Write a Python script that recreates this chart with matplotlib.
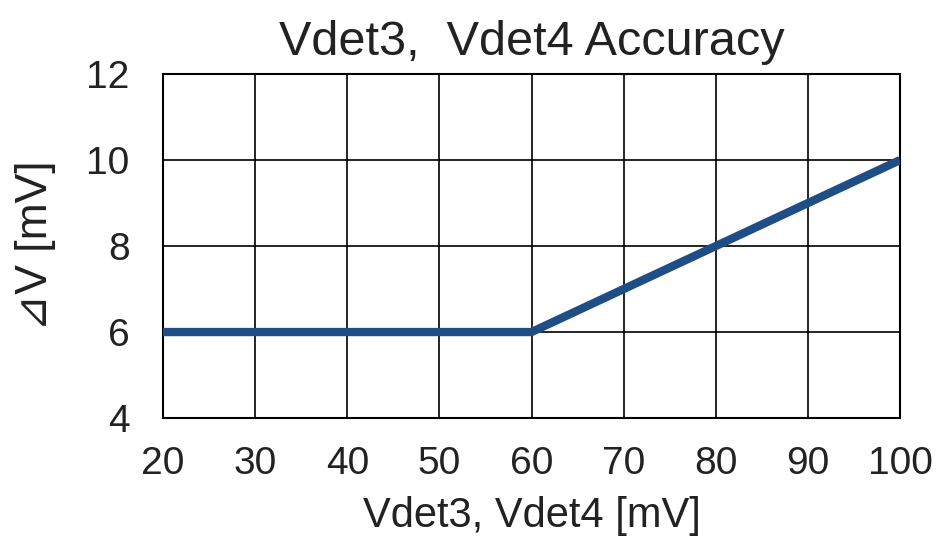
import matplotlib.pyplot as plt

plt.rcParams['font.family'] = ['Liberation Sans', 'DejaVu Sans']

# 折线数据
vdet = [20, 60, 100]
delta_v = [6, 6, 10]

x_ticks = [20, 30, 40, 50, 60, 70, 80, 90, 100]
y_ticks = [4, 6, 8, 10, 12]

fig = plt.figure(figsize=(9.37, 5.45), dpi=100)
ax = fig.add_axes([0.174, 0.233, 0.7865, 0.631])

ax.plot(vdet, delta_v, color='#1F4E87', linewidth=6, solid_capstyle='butt', zorder=3)

ax.set_xlim(20, 100)
ax.set_ylim(4, 12)
ax.set_xticks(x_ticks)
ax.set_yticks(y_ticks)
ax.grid(True, color='black', linewidth=1.2)
for s in ax.spines.values():
    s.set_linewidth(1.5)
ax.tick_params(length=0, labelsize=28, colors='#222222')
ax.tick_params(axis='x', pad=20)
ax.tick_params(axis='y', pad=24)

ax.set_title('Vdet3,  Vdet4 Accuracy', fontsize=35, pad=14, color='#222222')
ax.set_xlabel('Vdet3, Vdet4 [mV]', fontsize=30, labelpad=10, color='#222222')
ax.set_ylabel('⊿V [mV]', fontsize=32, labelpad=22, color='#222222')

fig.savefig('out.png')
